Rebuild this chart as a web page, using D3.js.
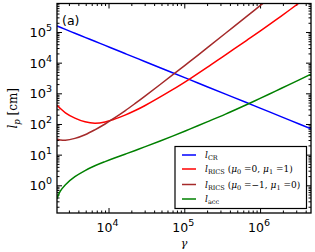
<!DOCTYPE html>
<html><head><meta charset="utf-8">
<script src="https://cdn.jsdelivr.net/npm/d3@7"></script>
<style>body{margin:0;background:#fff}svg{display:block}</style>
</head><body><svg id="c" width="315" height="252"></svg>
<script>
// ---- data ----
const gamma  = [2090, 2300, 2700, 3600, 4900, 6600, 9000, 12000, 16500, 22500, 30000, 70000, 120000, 200000, 350000, 660000, 1000000, 1600000, 2500000, 4700000];
const lCR    = [157000, 143000, 122000, 91000, 67000, 49700, 36500, 27400, 19900, 14600, 10900, 4690, 2740, 1640, 940, 500, 330, 205, 131, 70];
const lRICS1 = [407, 324, 232, 155, 117.5, 106, 116, 144, 195, 275, 394, 1315, 3030, 6980, 18100, 52600, 106000, 242000, 541000, 1740000];
const lRICS2 = [31.6, 30.2, 29.5, 33.9, 44.7, 64.6, 100, 158, 269, 468, 794, 3980, 11200, 30200, 91200, 316000, 724000, 1820000, 4470000, 15800000];
const lAcc   = [0.363, 0.631, 1.05, 1.91, 3.03, 4.34, 5.94, 7.78, 10.35, 13.7, 17.9, 40.3, 69.0, 117, 210, 424, 682, 1180, 2000, 4220];
const xTickExp = [4, 5, 6];
const yTickExp = [0, 1, 2, 3, 4, 5];
const seriesNames = ["CR", "RICS1", "RICS2", "acc"];
const seriesColors = ["#0000ff", "#ff0000", "#a52a2a", "#008000"];
const seriesValues = [lCR, lRICS1, lRICS2, lAcc];

// ---- layout ----
const L = 57, R = 311, T = 3.5, B = 213;
const svg = d3.select("#c");
const x = d3.scaleLog().domain([2090, 4.7e6]).range([L, R]);
const y = d3.scaleLog().domain([0.125, 8.5e5]).range([B, T]);

svg.append("defs").append("clipPath").attr("id", "clip")
  .append("rect").attr("x", L).attr("y", T).attr("width", R - L).attr("height", B - T);

function minors(lo, hi) {
  const out = [];
  for (let d = Math.floor(Math.log10(lo)) - 1; d <= Math.ceil(Math.log10(hi)); d++)
    for (let k = 2; k <= 9; k++) { const v = k * Math.pow(10, d); if (v > lo && v < hi) out.push(v); }
  return out;
}
const xMaj = xTickExp.map(e => Math.pow(10, e));
const yMaj = yTickExp.map(e => Math.pow(10, e));
const xMin = minors(2090, 4.7e6), yMin = minors(0.125, 8.5e5);

function axisG(axis, tx, ty) {
  const g = svg.append("g").attr("transform", `translate(${tx},${ty})`).call(axis);
  g.select(".domain").remove();
  g.selectAll("text").remove();
  g.selectAll("line").attr("stroke", "#000").attr("stroke-width", 1);
  return g;
}
const MJ = 5, MN = 2.5;
axisG(d3.axisBottom(x).tickValues(xMaj).tickSize(-MJ), 0, B);
axisG(d3.axisBottom(x).tickValues(xMin).tickSize(-MN), 0, B);
axisG(d3.axisTop(x).tickValues(xMaj).tickSize(-MJ), 0, T);
axisG(d3.axisTop(x).tickValues(xMin).tickSize(-MN), 0, T);
axisG(d3.axisLeft(y).tickValues(yMaj).tickSize(-MJ), L, 0);
axisG(d3.axisLeft(y).tickValues(yMin).tickSize(-MN), L, 0);
axisG(d3.axisRight(y).tickValues(yMaj).tickSize(-MJ), R, 0);
axisG(d3.axisRight(y).tickValues(yMin).tickSize(-MN), R, 0);

// curves
const line = d3.line().x((d, i) => x(gamma[i])).y(d => y(d)).curve(d3.curveCatmullRom.alpha(0.5));
const plot = svg.append("g").attr("clip-path", "url(#clip)");
seriesValues.forEach((vals, i) => {
  plot.append("path").attr("d", line(vals)).attr("fill", "none")
    .attr("stroke", seriesColors[i]).attr("stroke-width", 1.5);
});

// frame
svg.append("rect").attr("x", L).attr("y", T).attr("width", R - L).attr("height", B - T)
  .attr("fill", "none").attr("stroke", "#000").attr("stroke-width", 1.3);

// tick labels
const sans = "DejaVu Sans, sans-serif";
xTickExp.forEach(e => {
  const t = svg.append("text").attr("x", x(Math.pow(10, e)) - 1).attr("y", 232)
    .attr("text-anchor", "middle").attr("font-family", sans).attr("font-size", 12.5).attr("fill", "#000");
  t.append("tspan").text("10");
  t.append("tspan").attr("dy", -6).attr("font-size", 9.5).text(e);
});
yTickExp.forEach(e => {
  const t = svg.append("text").attr("x", 52).attr("y", y(Math.pow(10, e)) + 5)
    .attr("text-anchor", "end").attr("font-family", sans).attr("font-size", 13).attr("fill", "#000");
  t.append("tspan").text("10");
  t.append("tspan").attr("dy", -6).attr("font-size", 9.5).text(e);
});

// panel label
svg.append("text").attr("x", 62).attr("y", 25).attr("font-family", sans).attr("font-size", 12.5).text("(a)");

// axis labels
const serif = "DejaVu Serif, serif";
svg.append("text").attr("x", (L + R) / 2).attr("y", 247).attr("text-anchor", "middle")
  .attr("font-family", serif).attr("font-style", "italic").attr("font-size", 11).text("γ");
const yl = svg.append("text").attr("transform", `translate(17,${(T + B) / 2}) rotate(-90)`)
  .attr("text-anchor", "middle").attr("font-family", serif).attr("font-size", 12);
yl.append("tspan").attr("font-style", "italic").text("l");
yl.append("tspan").attr("font-style", "italic").attr("font-size", 8.5).attr("dy", 3).text("p");
yl.append("tspan").attr("dy", -3).text(" [cm]");

// legend
const lg = svg.append("g");
lg.append("rect").attr("x", 175).attr("y", 146.5).attr("width", 131.5).attr("height", 62)
  .attr("fill", "#fff").attr("stroke", "#000").attr("stroke-width", 1.2);
const rowY = [155, 169, 184.5, 199];
const labels = [
  [["l", "i"], ["CR", "s"]],
  [["l", "i"], ["RICS", "s"], [" (", "r"], ["μ", "i"], ["0", "s"], [" =0, ", "r"], ["μ", "i"], ["1", "s"], [" =1)", "r"]],
  [["l", "i"], ["RICS", "s"], [" (", "r"], ["μ", "i"], ["0", "s"], [" =−1, ", "r"], ["μ", "i"], ["1", "s"], [" =0)", "r"]],
  [["l", "i"], ["acc", "s"]]
];
seriesNames.forEach((n, i) => {
  lg.append("line").attr("x1", 182).attr("x2", 196).attr("y1", rowY[i]).attr("y2", rowY[i])
    .attr("stroke", seriesColors[i]).attr("stroke-width", 1.5);
  const t = lg.append("text").attr("x", 205).attr("y", rowY[i] + 3)
    .attr("font-family", serif).attr("font-size", 9).attr("fill", "#000");
  let sub = false;
  labels[i].forEach(([s, k]) => {
    const ts = t.append("tspan").text(s);
    if (k === "i") ts.attr("font-style", "italic");
    if (k === "s" && !sub) { ts.attr("dy", 2.2).attr("font-size", 6.5); sub = true; }
    else if (k === "s") ts.attr("font-size", 6.5);
    else if (sub) { ts.attr("dy", -2.2); sub = false; }
  });
});
</script>
</body></html>
